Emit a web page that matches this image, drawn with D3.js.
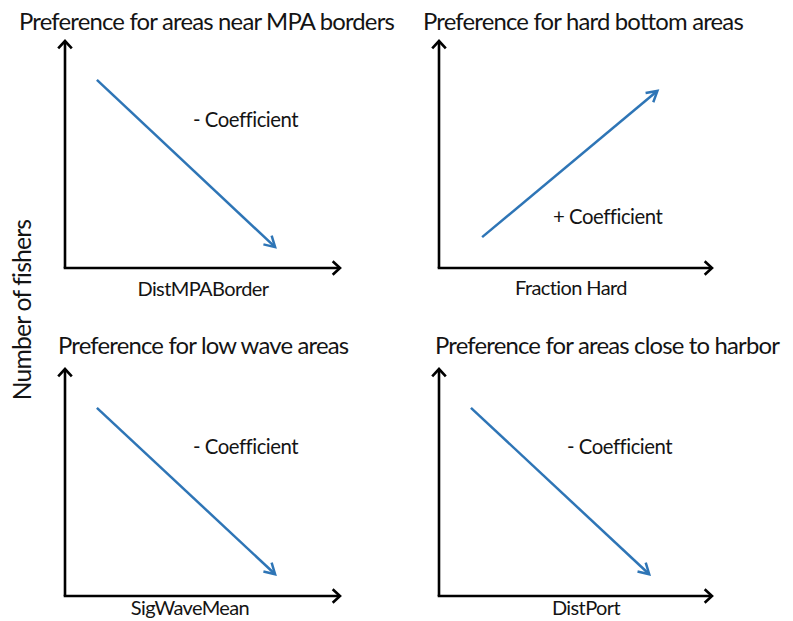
<!DOCTYPE html>
<html>
<head>
<meta charset="utf-8">
<script src="https://cdn.jsdelivr.net/npm/d3@7"></script>
<style>
  html, body { margin: 0; padding: 0; background: #fff; }
  svg { display: block; }
  text { font-family: Lato, "Open Sans", sans-serif; fill: #141414; }
</style>
</head>
<body>
<svg id="chart" width="793" height="621"></svg>
<script>
// ---- data ----
const titles = [
  "Preference for areas near MPA borders",
  "Preference for hard bottom areas",
  "Preference for low wave areas",
  "Preference for areas close to harbor"
];
const xLabels = ["DistMPABorder", "Fraction Hard", "SigWaveMean", "DistPort"];
const coefLabels = ["- Coefficient", "+ Coefficient", "- Coefficient", "- Coefficient"];
const yLabel = "Number of fishers";
// trend arrows, in normalized axis units (0..1)
const startX = [0.116, 0.158, 0.116, 0.117];
const startY = [0.829, 0.136, 0.829, 0.829];
const endX   = [0.764, 0.800, 0.764, 0.770];
const endY   = [0.092, 0.780, 0.096, 0.096];

// ---- layout ----
const svg = d3.select("#chart");
const panels = [
  {x0: 65,  x1: 340, yb: 268, yt: 41, tx: 19,  ty: 30,  cx: 193, cy: 127, lx: 203, ly: 296},
  {x0: 439, x1: 712, yb: 268, yt: 41, tx: 423, ty: 30,  cx: 553, cy: 224, lx: 571, ly: 295},
  {x0: 65,  x1: 340, yb: 596, yt: 369, tx: 58,  ty: 354, cx: 193, cy: 454, lx: 190, ly: 615},
  {x0: 439, x1: 712, yb: 596, yt: 369, tx: 435, ty: 354, cx: 567, cy: 454, lx: 586, ly: 615}
];
const blue = "#2e75b6";

// font size enlarged a bit vs pure width fit, letter spacing trimmed to keep width
function fit(str, target, grow) {
  const t = svg.append("text").style("font-size", "20px").text(str);
  const w = t.node().getComputedTextLength();
  const size = 20 * target / w * grow;
  t.style("font-size", size + "px");
  const w2 = t.node().getComputedTextLength();
  t.remove();
  return {size: size, ls: (target - w2) / str.length};
}
const tFit = fit(titles[0], 375, 1.08);
const cFit = fit(coefLabels[0], 104, 1.06);
const lFit = fit(xLabels[0], 131, 1.06);

function chevron(g, tipX, tipY, angle, len, spread, color, width) {
  const a1 = angle + Math.PI - spread, a2 = angle + Math.PI + spread;
  const p = d3.path();
  p.moveTo(tipX + len * Math.cos(a1), tipY + len * Math.sin(a1));
  p.lineTo(tipX, tipY);
  p.lineTo(tipX + len * Math.cos(a2), tipY + len * Math.sin(a2));
  g.append("path").attr("d", p.toString())
    .attr("fill", "none").attr("stroke", color).attr("stroke-width", width)
    .attr("stroke-linejoin", "miter").attr("stroke-linecap", "butt");
}

function styled(sel, f) {
  return sel.style("font-size", f.size + "px").style("letter-spacing", f.ls + "px");
}

panels.forEach((P, i) => {
  const g = svg.append("g");
  const x = d3.scaleLinear().domain([0, 1]).range([P.x0, P.x1]);
  const y = d3.scaleLinear().domain([0, 1]).range([P.yb, P.yt]);

  // axes
  g.append("line").attr("x1", x(0)).attr("y1", y(0)).attr("x2", x(0)).attr("y2", y(1) + 1)
    .attr("stroke", "#000").attr("stroke-width", 2.6);
  g.append("line").attr("x1", x(0) - 1.3).attr("y1", y(0)).attr("x2", x(1) - 1).attr("y2", y(0))
    .attr("stroke", "#000").attr("stroke-width", 2.6);
  chevron(g, x(0), y(1), -Math.PI / 2, 10, Math.PI / 4.2, "#000", 2.6);
  chevron(g, x(1), y(0), 0, 10, Math.PI / 4.2, "#000", 2.6);

  // trend arrow
  const sx = x(startX[i]), sy = y(startY[i]), ex = x(endX[i]), ey = y(endY[i]);
  const ang = Math.atan2(ey - sy, ex - sx);
  g.append("line").attr("x1", sx).attr("y1", sy).attr("x2", ex - Math.cos(ang)).attr("y2", ey - Math.sin(ang))
    .attr("stroke", blue).attr("stroke-width", 2.5);
  chevron(g, ex, ey, ang, 12, Math.PI / 6, blue, 2.5);

  // texts
  styled(g.append("text").attr("x", P.tx).attr("y", P.ty), tFit).text(titles[i]);
  styled(g.append("text").attr("x", P.cx).attr("y", P.cy), cFit).text(coefLabels[i]);
  styled(g.append("text").attr("x", P.lx).attr("y", P.ly).attr("text-anchor", "middle"), lFit).text(xLabels[i]);
});

const yFit = fit(yLabel, 180, 1.08);
styled(svg.append("text")
  .attr("transform", "translate(31,310) rotate(-90)")
  .attr("text-anchor", "middle"), yFit)
  .text(yLabel);
</script>
</body>
</html>
